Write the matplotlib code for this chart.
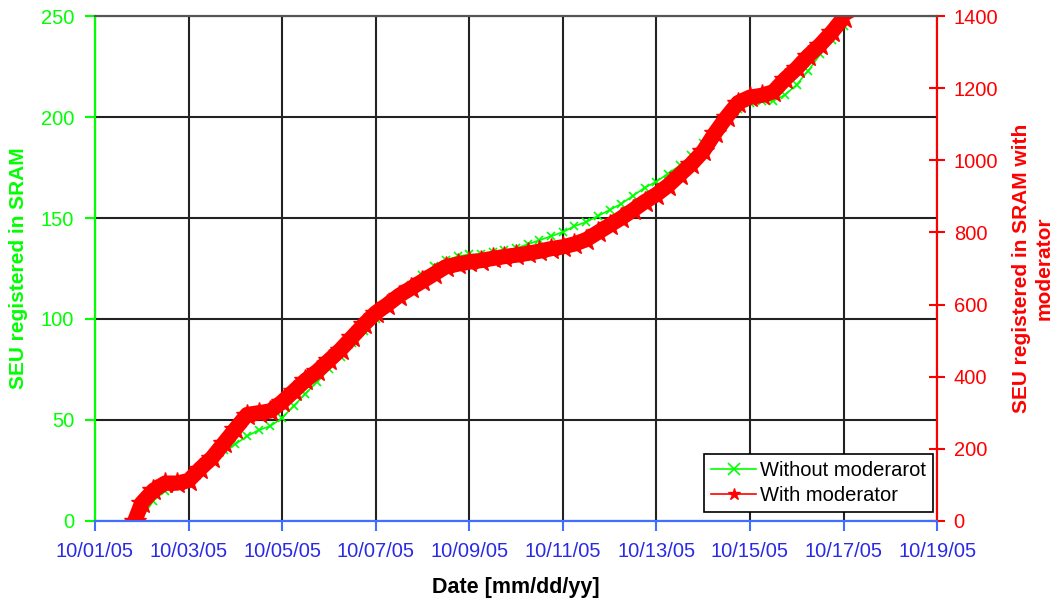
import numpy as np
import pandas as pd
import matplotlib
matplotlib.use("Agg")
import matplotlib.pyplot as plt
import matplotlib.dates as mdates

plt.rcParams['font.family'] = ['Liberation Sans', 'DejaVu Sans']

###########################################################################
# SEU counts vs. time (day of October 2005, fractional)
###########################################################################
day_without = [1.95, 2.25, 2.5, 2.75, 3.0, 3.25, 3.5, 3.75, 4.0, 4.25, 4.5, 4.75,
               5.0, 5.25, 5.5, 5.75, 6.0, 6.25, 6.5, 6.75, 7.0, 7.25, 7.5, 7.75,
               8.0, 8.25, 8.5, 8.75, 9.0, 9.25, 9.5, 9.75, 10.0, 10.25, 10.5, 10.75,
               11.0, 11.25, 11.5, 11.75, 12.0, 12.25, 12.5, 12.75, 13.0, 13.25, 13.5,
               13.75, 14.0, 14.25, 14.5, 14.75, 15.0, 15.25, 15.5, 15.75, 16.0,
               16.25, 16.5, 16.75, 17.0]
seu_without = [0, 10, 15, 18, 20, 25, 30, 35, 38, 42, 45, 47,
               51, 57, 63, 69, 75, 81, 88, 94, 100, 106, 112, 117,
               122, 126, 129, 131, 132, 132, 133, 134, 135, 137, 139, 141,
               143, 146, 148, 151, 154, 157, 161, 165, 168, 172, 176,
               181, 187, 193, 199, 204, 207, 208, 208, 211, 216,
               223, 231, 238, 245]

day_with = [1.85, 2.0, 2.25, 2.5, 2.75, 3.0, 3.25, 3.5, 3.75, 4.0, 4.25, 4.5, 4.75,
            5.0, 5.25, 5.5, 5.75, 6.0, 6.25, 6.5, 6.75, 7.0, 7.25, 7.5, 7.75,
            8.0, 8.25, 8.5, 8.75, 9.0, 9.25, 9.5, 9.75, 10.0, 10.25, 10.5, 10.75,
            11.0, 11.25, 11.5, 11.75, 12.0, 12.25, 12.5, 12.75, 13.0, 13.25, 13.5,
            13.75, 14.0, 14.25, 14.5, 14.75, 15.0, 15.25, 15.5, 15.75, 16.0,
            16.25, 16.5, 16.75, 17.0]
seu_with = [0, 50, 85, 105, 105, 112, 145, 175, 215, 255, 295, 300, 305,
            330, 360, 390, 415, 445, 475, 510, 545, 577, 600, 625, 645,
            665, 685, 705, 712, 718, 722, 728, 733, 737, 742, 748, 755,
            760, 768, 780, 800, 820, 840, 862, 885, 905, 930, 960,
            990, 1025, 1075, 1120, 1160, 1175, 1180, 1190, 1225, 1255,
            1290, 1320, 1355, 1395]

tick_dates = ['2005-10-01', '2005-10-03', '2005-10-05', '2005-10-07', '2005-10-09',
              '2005-10-11', '2005-10-13', '2005-10-15', '2005-10-17', '2005-10-19']

origin = pd.Timestamp('2005-09-30')
t_without = origin + pd.to_timedelta(day_without, unit='D')
t_with = origin + pd.to_timedelta(day_with, unit='D')
ticks = pd.to_datetime(tick_dates)

GREEN = '#00ff00'
RED = '#ff0000'
BLUE_TXT = '#2a2ae6'
BLUE_AX = '#3f6fff'

fig = plt.figure(figsize=(10.61, 6.0), dpi=100)
ax = fig.add_axes([0.0895, 0.1317, 0.7937, 0.8416])
ax2 = ax.twinx()

l1, = ax.plot(t_without, seu_without, '-x', color=GREEN, lw=1.2, ms=6, mew=1.2,
              label='Without moderarot')
# thick band for the dense moderator record, stars on top
ax2.plot(t_with, seu_with, '-', color=RED, lw=11, solid_capstyle='butt',
         solid_joinstyle='round')
l2, = ax2.plot(t_with, seu_with, '-*', color=RED, lw=2, ms=16, mew=1,
               label='With moderator')

# axis ranges
ax.set_xlim(ticks[0], ticks[-1])
ax.set_ylim(0, 250)
ax2.set_ylim(0, 1400)

ax.set_xticks(ticks)
ax.xaxis.set_major_formatter(mdates.DateFormatter('%m/%d/%y'))
ax.set_yticks(np.arange(0, 251, 50))
ax2.set_yticks(np.arange(0, 1401, 200))

# grid
ax.grid(True, color='#222222', lw=1.5)
ax.set_axisbelow(True)

# spines
for a in (ax, ax2):
    a.spines['left'].set_color(GREEN)
    a.spines['right'].set_color(RED)
    a.spines['bottom'].set_color(BLUE_AX)
    a.spines['top'].set_color('#555555')
    for s in a.spines.values():
        s.set_linewidth(1.5)

ax.tick_params(axis='y', colors=GREEN, labelsize=14.5, length=7, width=1.5,
               direction='out', pad=8)
ax.tick_params(axis='x', colors=BLUE_AX, labelcolor=BLUE_TXT, labelsize=14.5,
               length=7, width=1.5, direction='out', pad=8)
ax2.tick_params(axis='y', colors=RED, labelsize=14.5, length=12, width=1.5,
                direction='inout', pad=6)

ax.set_ylabel('SEU registered in SRAM', color=GREEN, fontsize=15, fontweight='bold',
              labelpad=9)
ax2.set_ylabel('SEU registered in SRAM with\nmoderator', color=RED, fontsize=15,
               fontweight='bold', labelpad=10, linespacing=1.25)
ax.set_xlabel('Date [mm/dd/yy]', fontsize=15.5, fontweight='bold', labelpad=12)

leg = ax2.legend(handles=[l1, l2], loc='lower right', fontsize=14.5, frameon=True,
                 fancybox=False, edgecolor='black', framealpha=1,
                 borderpad=0.35, handlelength=2.2, handletextpad=0.2,
                 labelspacing=0.3, borderaxespad=0,
                 bbox_to_anchor=(0.995, 0.018))
leg.get_frame().set_linewidth(1.2)
for h in leg.legend_handles:
    h.set_markersize(9)
    h.set_linewidth(1.2)

fig.savefig('out.png', dpi=100)
